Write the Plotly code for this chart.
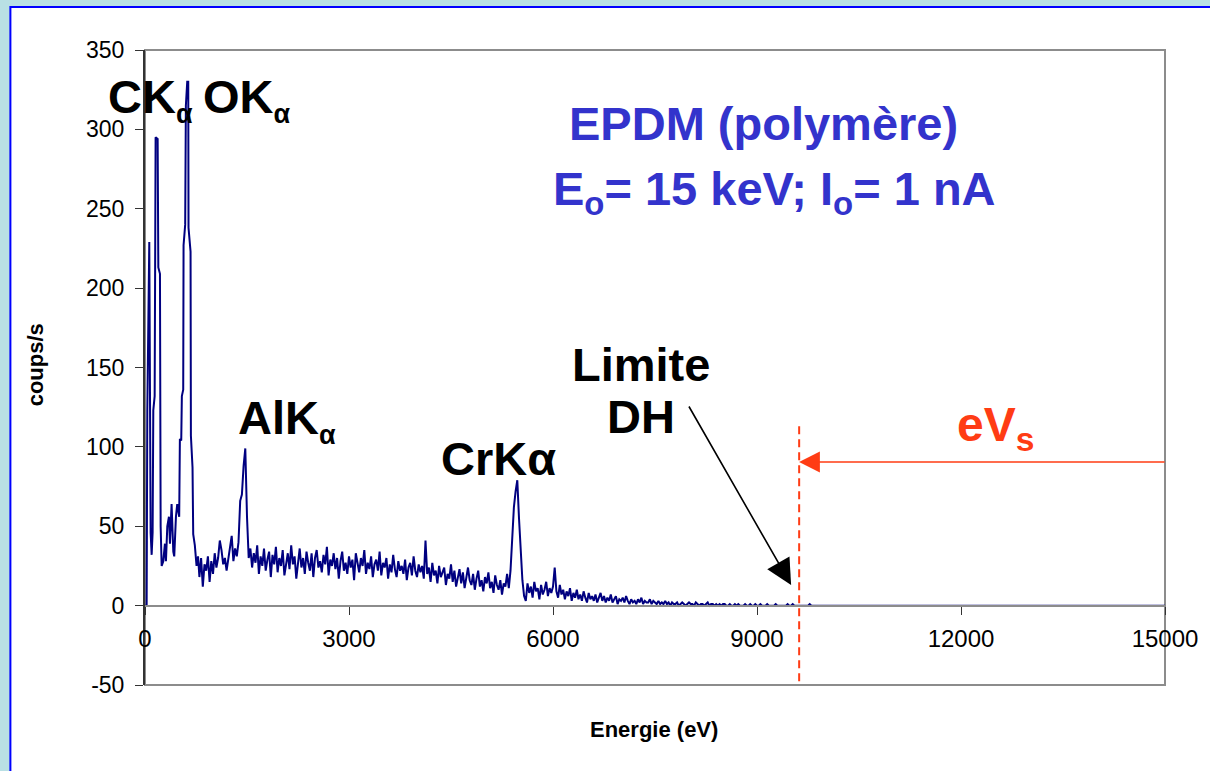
import plotly.graph_objects as go

# ---------------- data ----------------
# low-energy part: C / O peaks (explicit channels)
peak_energy = [0, 24, 34, 63, 83, 98, 112, 122, 142, 156, 186, 196, 220, 230, 245, 269,
               293, 308, 328, 352, 367, 391, 416, 430, 455, 474, 503, 513, 533, 542, 562,
               567, 591, 601, 621, 636, 640, 670, 675, 699, 709, 733, 758, 780]
peak_counts = [0, 0, 123, 229, 46, 32, 46, 123, 132, 295, 294, 213, 209, 50, 25, 28,
               39, 28, 50, 56, 39, 64, 34, 31, 56, 64, 56, 105, 104, 132, 136,
               227, 240, 315, 330, 330, 238, 223, 107, 87, 45, 38, 25, 31]

# continuum, 25 eV channels starting at 800 eV
cont_start = 800
cont_step = 25
cont_counts = [
    18, 30, 12, 26, 22, 31, 15, 28,      # 800
    20, 33, 24, 30, 41, 35, 26, 30,      # 1000
    22, 29, 34, 44, 28, 36, 31, 40,      # 1200
    66, 70, 88, 99, 56, 30, 36, 24,      # 1400 (AlKa)
    33, 27, 38, 20, 31, 25, 36, 22,      # 1600
    29, 34, 18, 32, 26, 37, 21, 30,      # 1800
    25, 35, 19, 28, 33, 23, 38, 26,      # 2000
    31, 17, 29, 36, 24, 30, 20, 34,      # 2200
    27, 22, 33, 18, 30, 35, 24, 28,      # 2400
    21, 32, 26, 37, 19, 29, 25, 33,      # 2600
    23, 30, 17, 28, 34, 22, 27, 20,      # 2800
    31, 24, 29, 16, 33, 26, 21, 30,      # 3000
    25, 35, 20, 27, 23, 31, 18, 26,      # 3200
    29, 22, 34, 19, 27, 24, 30, 17,      # 3400
    26, 21, 32, 23, 18, 28, 22, 25,      # 3600
    20, 29, 16, 24, 27, 19, 31, 22,      # 3800
    18, 26, 21, 25, 17, 41, 20, 24,      # 4000
    15, 27, 19, 22, 14, 25, 18, 21,      # 4200
    24, 13, 20, 17, 26, 15, 22, 12,      # 4400
    19, 23, 14, 21, 11, 18, 24, 16,      # 4600
    13, 20, 10, 17, 22, 12, 16, 9,       # 4800
    18, 14, 21, 11, 15, 8, 19, 13,       # 5000
    10, 16, 7, 14, 12, 20, 11, 22,       # 5200
    40, 62, 72, 79, 55, 36, 16, 6,       # 5400 (CrKa)
    3, 14, 8, 12, 5, 15, 9, 11,          # 5600
    4, 13, 7, 10, 15, 6, 11, 8,          # 5800
    12, 24, 9, 5, 13, 7, 10, 4,          # 6000
    9, 6, 11, 3, 8, 5, 10, 4,            # 6200
    7, 3, 9, 5, 2, 8, 4, 6,              # 6400
    3, 7, 2, 5, 8, 3, 6, 2,              # 6600
    5, 3, 7, 2, 4, 6, 1, 4,              # 6800
    3, 5, 2, 6, 3, 1, 4, 2,              # 7000
    3, 1, 4, 2, 5, 1, 3, 2,              # 7200
    2, 4, 1, 3, 2, 1, 3, 1,              # 7400
    2, 1, 3, 1, 2, 0, 2, 1,              # 7600
    1, 2, 0, 1, 2, 1, 0, 1,              # 7800
    2, 1, 1, 0, 2, 1, 0, 1,              # 8000
    1, 0, 1, 2, 0, 1, 1, 0,              # 8200
    1, 0, 1, 0, 1, 1, 0, 0,              # 8400
    1, 0, 0, 1, 0, 1, 0, 0,              # 8600
    0, 1, 0, 0, 1, 0, 0, 1,              # 8800
    0, 0, 1, 0, 0, 0, 1, 0,              # 9000
    0, 0, 0, 1, 0, 0, 0, 0,              # 9200
    0, 0, 1, 0, 0, 1, 0, 0,              # 9400
    0, 0, 0, 0, 0, 0, 0, 1,              # 9600
    0,                                   # 9800
]
tail_energy = [15000]
tail_counts = [0]

x_ticks = [0, 3000, 6000, 9000, 12000, 15000]
y_ticks = [-50, 0, 50, 100, 150, 200, 250, 300, 350]

duane_hunt_energy = 9620      # "Limite DH" / eVs marker
dh_line_top = 113

# ---------------- build series ----------------
cont_energy = [cont_start + i * cont_step for i in range(len(cont_counts))]
energy = peak_energy + cont_energy + tail_energy
counts = peak_counts + cont_counts + tail_counts

FONT = "Liberation Sans, Arial, sans-serif"
L, R, T, B = 145, 1168, 50, 685
W, H = 1210, 771


def px(x):
    return (x - L) / (R - L)


def py(y):
    return (B - y) / (B - T)


def sub(s, size=27):
    return "<sub><span style='font-size:%dpx'>%s</span></sub>" % (size, s)


fig = go.Figure()
fig.add_trace(go.Scatter(x=energy, y=counts, mode="lines",
                         line=dict(color="#000080", width=2), showlegend=False,
                         hoverinfo="skip"))

shapes = [
    # white slide panel with blue border
    dict(type="rect", xref="paper", yref="paper", x0=px(10), x1=px(1220), y0=py(790), y1=py(7),
         fillcolor="white", line=dict(color="#0000ff", width=2), layer="below"),
    # plot frame
    dict(type="rect", xref="paper", yref="paper", x0=0, x1=1, y0=0, y1=1,
         fillcolor="rgba(0,0,0,0)", line=dict(color="#8c8c8c", width=2), layer="below"),
    # dashed red DH line
    dict(type="line", xref="x", yref="y", x0=duane_hunt_energy, x1=duane_hunt_energy,
         y0=dh_line_top, y1=-50, line=dict(color="#ff3c14", width=2, dash="8px,5px"),
         layer="above"),
]

bold = dict(family=FONT, size=47, color="black")
annotations = [
    dict(text="<b>CK" + sub("α") + "</b>", x=px(106), y=py(99), xanchor="left", yanchor="middle", font=bold),
    dict(text="<b>OK" + sub("α") + "</b>", x=px(201), y=py(100), xanchor="left", yanchor="middle", font=bold),
    dict(text="<b>AlK" + sub("α") + "</b>", x=px(236), y=py(420), xanchor="left", yanchor="middle", font=bold),
    dict(text="<b>CrKα</b>", x=px(440), y=py(459), xanchor="left", yanchor="middle", font=bold),
    dict(text="<b>Limite</b>", x=px(642), y=py(364), xanchor="center", yanchor="middle", font=bold),
    dict(text="<b>DH</b>", x=px(642), y=py(417), xanchor="center", yanchor="middle", font=bold),
    dict(text="<b>EPDM (polymère)</b>", x=px(765), y=py(124), xanchor="center", yanchor="middle",
         font=dict(family=FONT, size=47, color="#3333cc")),
    dict(text="<b>E<sub>o</sub>= 15 keV; I<sub>o</sub>= 1 nA</b>", x=px(776), y=py(192),
         xanchor="center", yanchor="middle", font=dict(family=FONT, size=47, color="#3333cc")),
    dict(text="<b>eV<sub>s</sub></b>", x=px(957), y=py(428), xanchor="left", yanchor="middle",
         font=dict(family=FONT, size=48, color="#ff3c14")),
    # black arrow to DH limit
    dict(text="", x=px(793), y=py(585), ax=690 - 793, ay=405 - 585, showarrow=True,
         arrowhead=2, arrowsize=3.2, arrowwidth=1.6, arrowcolor="black"),
    # red horizontal arrow
    dict(text="", x=px(801), y=py(462), ax=1168 - 801, ay=0, showarrow=True,
         arrowhead=2, arrowsize=2.6, arrowwidth=1.6, arrowcolor="#ff3c14"),
    # axis titles
    dict(text="<b>coups/s</b>", x=px(35), y=py(365), textangle=-90, xanchor="center",
         yanchor="middle", font=dict(family=FONT, size=22, color="black")),
    dict(text="<b>Energie (eV)</b>", x=px(655), y=py(729), xanchor="center", yanchor="middle",
         font=dict(family=FONT, size=22, color="black")),
]
for a in annotations:
    a.setdefault("xref", "paper")
    a.setdefault("yref", "paper")
    a.setdefault("showarrow", False)

fig.update_layout(
    width=W, height=H,
    margin=dict(l=L, r=W - R, t=T, b=H - B, pad=0),
    paper_bgcolor="#b9e0e4",
    plot_bgcolor="white",
    font=dict(family=FONT, size=24, color="black"),
    shapes=shapes,
    annotations=annotations,
    xaxis=dict(range=[0, 15000], tickvals=x_ticks, ticktext=[str(v) for v in x_ticks],
               showgrid=False, zeroline=False, showline=True, linecolor="#8c8c8c", linewidth=2,
               ticks="outside", ticklen=8, tickcolor="#333333", tickwidth=1,
               anchor="free", position=(0 - (-50)) / 400,
               tickfont=dict(family=FONT, size=24, color="black"), ticklabelstandoff=4),
    yaxis=dict(range=[-50, 350], tickvals=y_ticks, ticktext=[str(v) for v in y_ticks],
               showgrid=False, zeroline=False, showline=True, linecolor="#333333", linewidth=2,
               ticks="outside", ticklen=8, tickcolor="#333333", tickwidth=1,
               tickfont=dict(family=FONT, size=23, color="black"), ticklabelstandoff=6),
)

fig.write_html("out.html", config={"displayModeBar": False},
               post_script="document.body.style.margin='0';document.body.style.overflow='hidden';")
